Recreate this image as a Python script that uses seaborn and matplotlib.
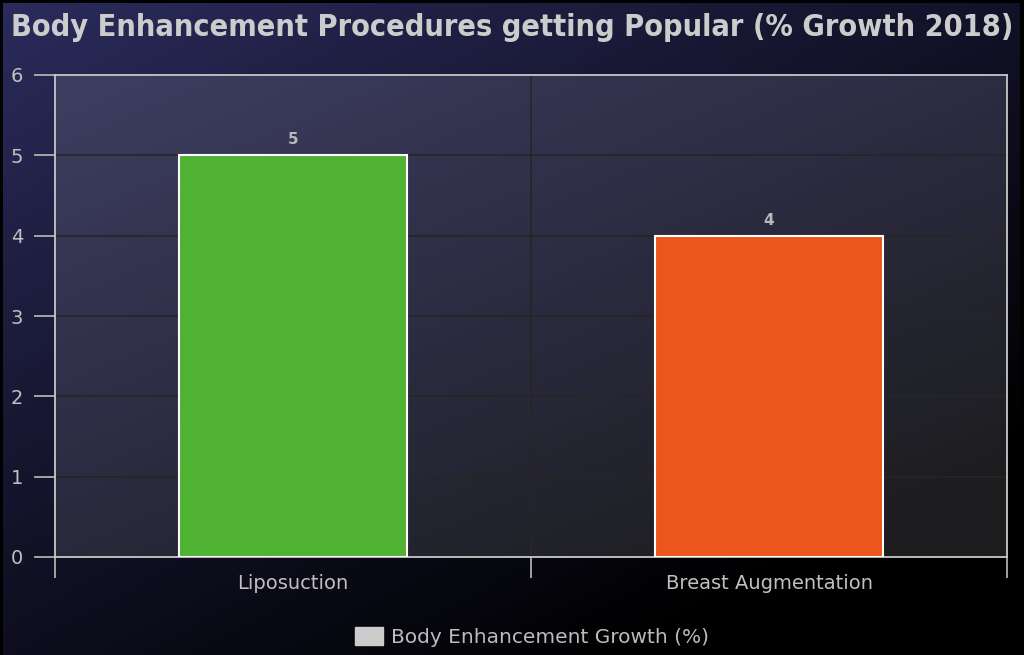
import numpy as np
import pandas as pd
import matplotlib
matplotlib.use("Agg")
import matplotlib.pyplot as plt
import seaborn as sns
from matplotlib.patches import Patch
from matplotlib.colors import LinearSegmentedColormap

categories = ["Liposuction", "Breast Augmentation"]
values = [5, 4]
bar_colors = ["#50b233", "#eb561c"]
series_name = "Body Enhancement Growth (%)"
title = "Body Enhancement Procedures getting Popular (% Growth 2018)"
yticks = [0, 1, 2, 3, 4, 5, 6]

df = pd.DataFrame({"Procedure": categories, "Growth": values})

sns.set_theme(style="dark")
plt.rcParams["font.family"] = ["DejaVu Sans"]

W, H = 1024, 655
fig = plt.figure(figsize=(W / 100, H / 100), dpi=100, facecolor="black")

# figure background gradient (top-left blue -> bottom-right black)
bg = fig.add_axes([3 / W, 0, 1 - 7 / W, 1 - 3 / H], zorder=-10)
gx, gy = np.meshgrid(np.linspace(0, 1, 256), np.linspace(0, 1, 256))
t = np.clip(gx * 0.55 + gy * 0.65, 0, 1)
cmap_bg = LinearSegmentedColormap.from_list("bg", ["#2b2b5c", "#14142c", "#000000"])
bg.imshow(t, cmap=cmap_bg, aspect="auto", extent=[0, 1, 0, 1], origin="upper",
          interpolation="bilinear")
bg.set_xlim(0, 1)
bg.set_ylim(0, 1)
bg.set_axis_off()

ax = fig.add_axes([55 / W, (H - 557) / H, (1007 - 55) / W, (557 - 75) / H])
ax.set_facecolor("none")
cmap_pa = LinearSegmentedColormap.from_list("pa", ["#3e3e62", "#2c2c42", "#1d1d1f"])
tp = np.clip(gx * 0.5 + gy * 0.6, 0, 1)
ax.imshow(tp, cmap=cmap_pa, aspect="auto", extent=[0, 1, 0, 1], origin="upper",
          transform=ax.transAxes, interpolation="bilinear", zorder=-5)

sns.barplot(data=df, x="Procedure", y="Growth", hue="Procedure", palette=bar_colors,
            saturation=1, width=0.48, edgecolor="white", linewidth=1.5, legend=False,
            ax=ax, zorder=3)

ax.set_xlim(-0.5, 1.5)
ax.set_ylim(0, 6)
ax.set_xlabel("")
ax.set_ylabel("")

# labels above bars
for i, v in enumerate(values):
    ax.text(i, v + 0.1, str(v), ha="center", va="bottom", color="#b8b8b8",
            fontsize=11, fontweight="bold")

# ticks
ax.set_xticks([-0.5, 0.5, 1.5])
ax.set_xticklabels([])
ax.set_xticks([0, 1], minor=True)
ax.set_xticklabels(categories, minor=True)
ax.tick_params(axis="x", which="major", length=15, width=1.2, color="#bbbbbb",
               direction="out", bottom=True)
ax.tick_params(axis="x", which="minor", length=0, pad=12, labelsize=14, labelcolor="#c0c0c0")
ax.set_yticks(yticks)
ax.tick_params(axis="y", length=15, width=1.2, color="#bbbbbb", direction="out", left=True,
               pad=8, labelsize=14, labelcolor="#c0c0c0")

ax.grid(True, axis="both", which="major", color="#262626", linewidth=1.2, zorder=0)
ax.set_axisbelow(True)
for s in ax.spines.values():
    s.set_visible(True)
    s.set_color("#c8c8c8")
    s.set_linewidth(1.3)

fig.text(0.5, 1 - 28 / H, title, ha="center", va="center", color="#cccccc",
         fontsize=22, fontweight="bold", fontstretch="condensed")

handle = Patch(facecolor="#cccccc", edgecolor="#cccccc", label=series_name)
fig.legend(handles=[handle], loc="center", bbox_to_anchor=(532 / W, 1 - 637 / H), frameon=False,
           fontsize=14.5, labelcolor="#bbbbbb", handlelength=1.35, handleheight=1.0,
           handletextpad=0.4)

fig.savefig("out.png", dpi=100, facecolor="black")
